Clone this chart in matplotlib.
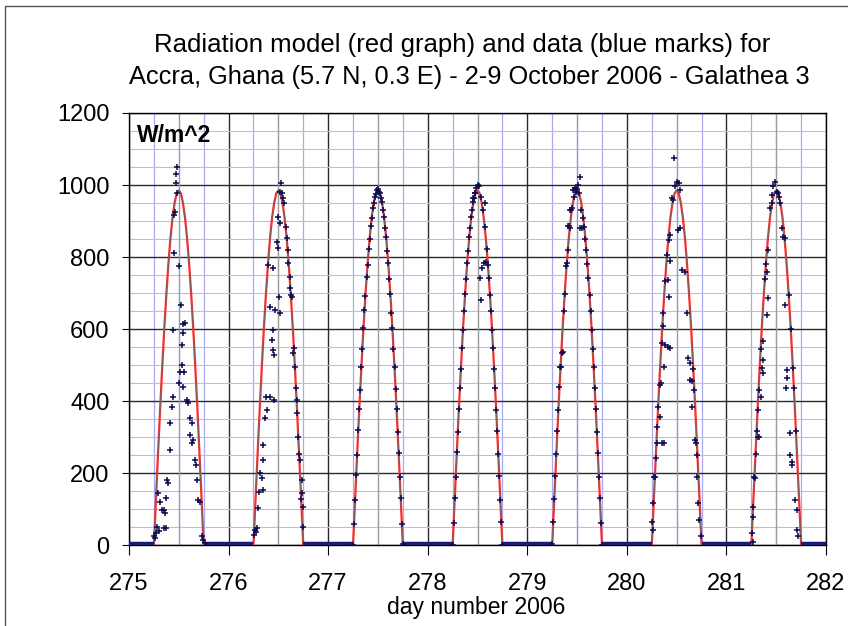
import matplotlib
matplotlib.use("Agg")
import matplotlib.pyplot as plt
from matplotlib.ticker import MultipleLocator
from matplotlib.patches import Rectangle

plt.rcParams['font.family'] = ['Liberation Sans', 'DejaVu Sans']

# Model profile for one day (hour UTC -> W/m^2), same for every day
prof_hours = [0, 6.0, 6.5, 7.0, 7.5, 8.0, 8.5, 9.0, 9.5, 10.0, 10.5, 11.0, 11.5,
              12.0, 12.5, 13.0, 13.5, 14.0, 14.5, 15.0, 15.5, 16.0, 16.5, 17.0,
              17.5, 18.0, 24]
prof_w = [0, 0, 129, 255, 377, 492, 600, 696, 781, 853, 910, 951, 977,
          985, 977, 951, 910, 853, 781, 696, 600, 492, 377, 255,
          129, 0, 0]
days = [275, 276, 277, 278, 279, 280, 281]

# quarter-hour readings on the clear days
q_hours = [6.0, 6.25, 6.5, 6.75, 7.0, 7.25, 7.5, 7.75, 8.0, 8.25, 8.5, 8.75,
           9.0, 9.25, 9.5, 9.75, 10.0, 10.25, 10.5, 10.75, 11.0, 11.25, 11.5,
           11.75, 12.0, 12.25, 12.5, 12.75, 13.0, 13.25, 13.5, 13.75, 14.0,
           14.25, 14.5, 14.75, 15.0, 15.25, 15.5, 15.75, 16.0, 16.25, 16.5,
           16.75, 17.0, 17.25, 17.5, 17.75, 18.0]
w277 = [2, 60, 125, 195, 252, 320, 380, 432, 495, 545, 602, 652, 693, 744, 778,
        822, 850, 886, 908, 936, 950, 968, 975, 985, 990, 980, 978, 963, 953,
        930, 912, 880, 855, 816, 783, 738, 698, 646, 602, 544, 494, 433, 380,
        314, 257, 190, 131, 60, 3]
w278 = [1, 62, 131, 190, 258, 315, 379, 438, 490, 549, 598, 651, 698, 739, 784,
        817, 855, 881, 912, 931, 953, 964, 977, 991, 1000, 996, 741, 966, 769,
        931, 783, 883, 787, 822, 779, 743, 694, 651, 598, 549, 490, 438, 375,
        319, 253, 194, 127, 66, 2]
w279 = [3, 66, 128, 194, 253, 318, 375, 439, 494, 533, 538, 650, 697, 776, 783,
        819, 885, 880, 931, 935, 986, 967, 991, 982, 988, 1000, 977, 1023, 931,
        880, 908, 884, 850, 820, 780, 742, 695, 650, 598, 546, 494, 437, 379,
        316, 256, 190, 132, 63, 1]
x278_h = [11.0, 11.4, 12.85, 13.8]
x278_w = [963, 977, 681, 949]
x279_h = [8.13, 9.9, 10.3, 12.7]
x279_w = [496, 885, 931, 880]

# cloudy days
h275 = [11.5, 11.33, 11.33, 11.64, 11.09, 10.92, 10.85, 12.05, 12.53, 13.1,
        13.49, 10.68, 13.1, 12.7, 12.86, 12.29, 13.34, 12.05, 13.1, 10.68,
        10.44, 13.9, 14.3, 9.89, 14.71, 15.1, 14.71, 15.5, 15.1, 9.89, 15.91,
        16.08, 9.07, 9.31, 8.83, 16.32, 16.7, 17.11, 7.46, 7.87, 8.52, 8.69,
        7.08, 8.52, 8.83, 6.67, 6.43, 6.26, 17.52, 17.93, 18.3, 6.1, 7.3]
w275 = [1049, 1030, 1005, 977, 926, 917, 812, 774, 667, 615,
        617, 598, 589, 556, 501, 482, 480, 450, 439, 413,
        385, 404, 395, 341, 353, 339, 307, 293, 284, 265, 237,
        223, 182, 173, 131, 182, 126, 122, 122, 98, 98, 89,
        145, 48, 48, 52, 34, 20, 25, 15, 6, 25, 40]
h276 = [12.55, 12.38, 12.79, 13.2, 13.34, 12.0, 12.38, 11.59, 12.0, 9.58,
        10.8, 14.4, 14.8, 14.8, 15.2, 9.98, 11.18, 12.38, 12.24, 10.8,
        10.39, 10.8, 10.94, 15.46, 16.0, 9.02, 9.98, 10.94, 9.19, 8.78,
        16.42, 16.56, 16.8, 8.38, 8.21, 17.21, 7.58, 7.97, 8.38, 7.42,
        7.18, 6.77, 6.6, 6.36, 17.62, 17.78, 17.86, 18.02, 13.75, 14.0,
        14.25, 15.0, 15.75, 16.25, 17.0, 17.5, 6.1]
w276 = [1007, 982, 977, 963, 950, 912, 894, 843, 825, 778,
        769, 783, 746, 714, 690, 663, 653, 644, 690, 598,
        570, 542, 529, 533, 496, 413, 413, 404, 376, 353,
        404, 367, 302, 279, 237, 237, 200, 186, 154, 149,
        103, 48, 38, 43, 182, 145, 108, 52, 883, 853,
        819, 696, 547, 436, 255, 129, 30]
h280 = [6.13, 6.22, 6.36, 6.6, 7.0, 7.17, 7.58, 7.98, 7.98, 8.22,
        8.38, 8.38, 8.78, 8.94, 8.94, 9.18, 9.58, 9.98, 9.98, 10.22,
        10.22, 10.39, 10.39, 10.39, 10.79, 11.19, 11.43, 11.59, 11.99, 12.39,
        12.55, 12.8, 12.8, 13.2, 14.0, 14.56, 14.8, 15.2, 15.2, 15.6,
        15.76, 16.41, 16.65, 16.81, 17.21, 17.45, 17.77, 6.75, 7.33, 8.6,
        9.25, 16.0, 16.25, 17.0]
w280 = [66, 43, 117, 191, 242, 283, 385, 357, 445, 450,
        283, 561, 644, 283, 496, 556, 806, 550, 737, 690,
        848, 547, 788, 862, 963, 959, 1074, 996, 1009, 875,
        1005, 986, 880, 764, 760, 644, 519, 505, 459, 455,
        385, 293, 283, 191, 117, 71, 25, 190, 330, 610,
        735, 490, 430, 250]
h281 = [11.71, 11.3, 12.12, 10.92, 10.51, 13.32, 13.73, 10.1, 9.7, 10.1,
        9.7, 14.11, 8.9, 8.9, 8.5, 8.9, 14.52, 14.69, 14.35, 7.94,
        8.26, 7.7, 7.94, 15.34, 15.34, 15.72, 15.89, 6.89, 16.54, 16.94,
        6.48, 6.34, 6.1, 6.34, 17.09, 17.33, 6.75, 7.0, 7.25, 7.5,
        8.25, 9.25, 9.5, 11.0, 12.5, 12.75, 13.0, 14.0, 15.0, 15.5,
        16.0, 16.25, 16.75]
w281 = [1009, 996, 982, 973, 936, 880, 857, 820, 760, 686,
        640, 667, 566, 515, 492, 478, 487, 464, 436, 431,
        413, 302, 302, 311, 251, 233, 223, 186, 126, 98,
        108, 80, 34, 11, 43, 25, 190, 255, 317, 377,
        545, 740, 781, 950, 977, 966, 951, 853, 696, 600,
        492, 436, 317]

# night-time readings (about zero)
night_from = [275.0, 275.75, 276.75, 277.75, 278.75, 279.75, 280.75, 281.75]
night_to = [275.25, 276.25, 277.25, 278.25, 279.25, 280.25, 281.25, 282.0]
night_w = [5, 5, 5, 5, 5, 5, 5, 5]

fig = plt.figure(figsize=(8.48, 6.26), dpi=100)
ax = fig.add_axes([0.1521, 0.1286, 0.822, 0.691])

# model curve
mt, mw = [], []
for d in days:
    for h, w in zip(prof_hours, prof_w):
        mt.append(d + h / 24)
        mw.append(w)
ax.plot(mt, mw, color='#ff2a2a', lw=1.6, zorder=3)
ax.plot(mt, mw, color='#6a6a6a', lw=0.6, zorder=3.2)

# measurements
meas = [(275, h275, w275), (276, h276, w276), (277, q_hours, w277),
        (278, q_hours, w278), (278, x278_h, x278_w),
        (279, q_hours, w279), (279, x279_h, x279_w),
        (280, h280, w280), (281, h281, w281)]
ax.hlines(night_w, night_from, night_to, color='#1a1a78', lw=3.2, zorder=4)
for d, hh, ww in meas:
    ax.plot([d + h / 24 for h in hh], ww, ls='none', marker='+',
            color='#0b0b50', ms=4.5, mew=1.1, zorder=5)

ax.set_xlim(275, 282)
ax.set_ylim(0, 1200)
ax.xaxis.set_major_locator(MultipleLocator(1))
ax.xaxis.set_minor_locator(MultipleLocator(0.25))
ax.yaxis.set_major_locator(MultipleLocator(200))
ax.yaxis.set_minor_locator(MultipleLocator(50))
ax.set_axisbelow(True)
ax.grid(which='minor', axis='x', color='#a9a9f2', lw=0.9)
ax.grid(which='minor', axis='y', color='#bdbdde', lw=0.8)
for d in days:
    ax.axvline(d + 0.5, color='#9c9c9c', lw=0.9, zorder=0.8)
ax.grid(which='major', color='#2a2a2a', lw=1.0)

for s in ax.spines.values():
    s.set_color('black')
    s.set_linewidth(1.0)
ax.tick_params(which='minor', length=0)
ax.tick_params(axis='x', which='major', direction='out', length=7, pad=13,
               labelsize=17)
ax.tick_params(axis='y', which='major', direction='out', length=5, pad=9,
               labelsize=17)

ax.text(0.011, 0.948, 'W/m^2', transform=ax.transAxes, fontsize=16.5,
        fontweight='bold', va='center', ha='left')

fig.text(0.545, 0.928, 'Radiation model (red graph) and data (blue marks) for',
         ha='center', va='center', fontsize=18.5)
fig.text(0.553, 0.877, 'Accra, Ghana (5.7 N, 0.3 E) - 2-9 October 2006 - Galathea 3',
         ha='center', va='center', fontsize=18.3)
fig.text(0.562, 0.029, 'day number 2006', ha='center', va='center',
         fontsize=16.5)

fig.patches.append(Rectangle((5 / 848, -0.05), 1.1, 1.05 - 6 / 626, fill=False,
                             ec='#555555', lw=1.0, transform=fig.transFigure))

fig.savefig('out.png', dpi=100)
